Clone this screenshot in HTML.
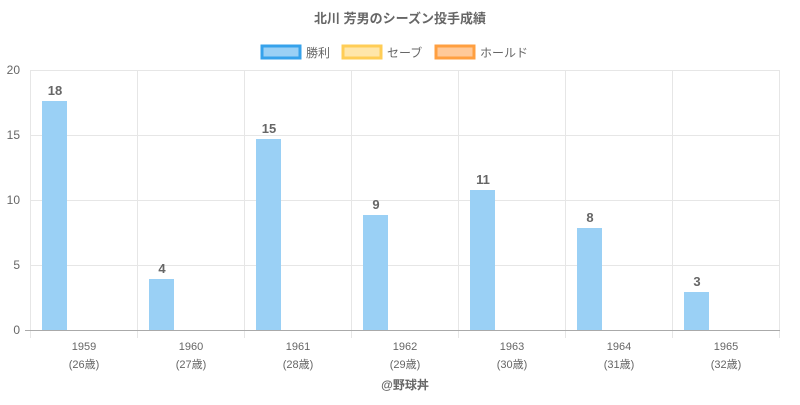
<!DOCTYPE html>
<html><head><meta charset="utf-8"><style>
body{margin:0;background:#fff;}
svg text{font-family:"Liberation Sans","Noto Sans CJK JP",sans-serif;fill:#666;}
</style></head><body>
<svg width="800" height="400" xmlns="http://www.w3.org/2000/svg">
<text x="400" y="23" text-anchor="middle" font-size="13" font-weight="bold">北川 芳男のシーズン投手成績</text>
<rect x="262" y="46" width="38" height="12" fill="#9ad0f5" stroke="#36a2eb" stroke-width="3"/>
<text x="306" y="57" font-size="12">勝利</text>
<rect x="343" y="46" width="38" height="12" fill="#ffe6aa" stroke="#ffcd56" stroke-width="3"/>
<text x="387" y="57" font-size="12">セーブ</text>
<rect x="436" y="46" width="38" height="12" fill="#ffc999" stroke="#ff9f40" stroke-width="3"/>
<text x="480" y="57" font-size="12">ホールド</text>
<g stroke="#e6e6e6" stroke-width="1">
<line x1="30" y1="70.5" x2="780" y2="70.5"/><line x1="30" y1="135.5" x2="780" y2="135.5"/>
<line x1="30" y1="200.5" x2="780" y2="200.5"/><line x1="30" y1="265.5" x2="780" y2="265.5"/>
<line x1="30.5" y1="70" x2="30.5" y2="338"/><line x1="137.5" y1="70" x2="137.5" y2="338"/>
<line x1="244.5" y1="70" x2="244.5" y2="338"/><line x1="351.5" y1="70" x2="351.5" y2="338"/>
<line x1="458.5" y1="70" x2="458.5" y2="338"/><line x1="565.5" y1="70" x2="565.5" y2="338"/>
<line x1="672.5" y1="70" x2="672.5" y2="338"/><line x1="779.5" y1="70" x2="779.5" y2="338"/>
</g>
<line x1="25" y1="330.5" x2="780" y2="330.5" stroke="#aaa"/>
<g font-size="12" text-anchor="end">
<text x="20" y="74">20</text><text x="20" y="139">15</text><text x="20" y="204">10</text><text x="20" y="269">5</text><text x="20" y="334">0</text>
</g>
<g fill="#9ad0f5">
<rect x="42" y="101" width="25" height="229"/>
<rect x="149" y="279" width="25" height="51"/>
<rect x="256" y="139" width="25" height="191"/>
<rect x="363" y="215" width="25" height="115"/>
<rect x="470" y="190" width="25" height="140"/>
<rect x="577" y="228" width="25" height="102"/>
<rect x="684" y="292" width="25" height="38"/>
</g>
<g font-size="13" font-weight="bold" text-anchor="middle">
<text x="55" y="95">18</text><text x="162" y="273">4</text><text x="269" y="133">15</text>
<text x="376" y="209">9</text><text x="483" y="184">11</text><text x="590" y="222">8</text><text x="697" y="286">3</text>
</g>
<g font-size="11" text-anchor="middle">
<text x="84" y="350">1959</text><text x="84" y="368">(26歳)</text>
<text x="191" y="350">1960</text><text x="191" y="368">(27歳)</text>
<text x="298" y="350">1961</text><text x="298" y="368">(28歳)</text>
<text x="405" y="350">1962</text><text x="405" y="368">(29歳)</text>
<text x="512" y="350">1963</text><text x="512" y="368">(30歳)</text>
<text x="619" y="350">1964</text><text x="619" y="368">(31歳)</text>
<text x="726" y="350">1965</text><text x="726" y="368">(32歳)</text>
</g>
<text x="405" y="389" text-anchor="middle" font-size="12" font-weight="bold">@野球丼</text>
</svg>
</body></html>
